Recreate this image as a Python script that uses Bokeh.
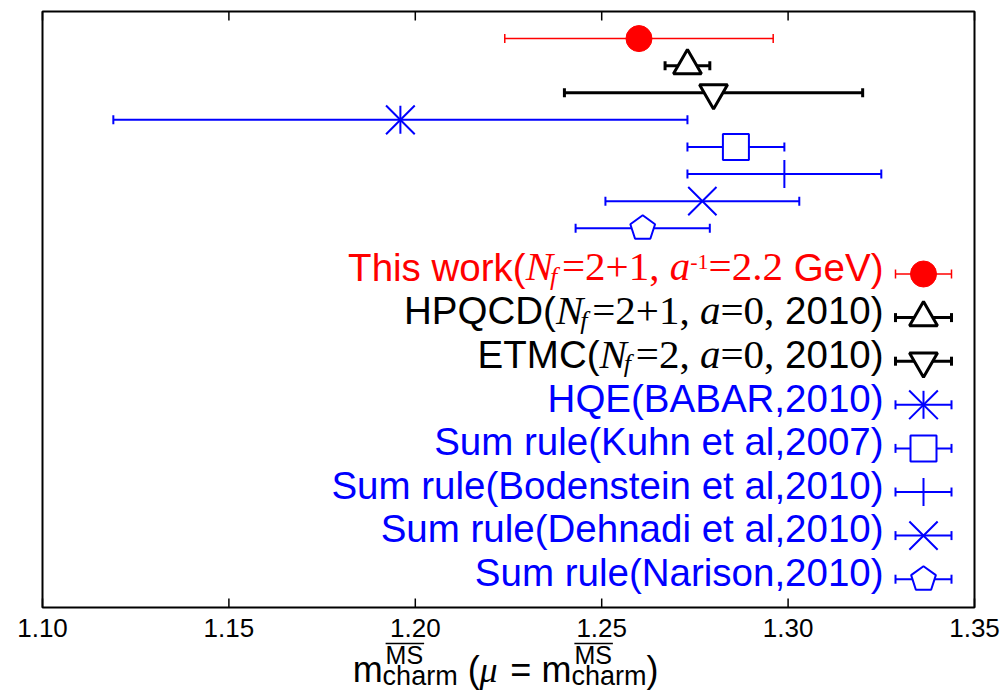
import math
from bokeh.plotting import figure
from bokeh.models import ColumnDataSource, Whisker, TeeHead, Label, Range1d
from bokeh.embed import file_html
from bokeh.resources import INLINE

# ---------------- data ----------------
names = ["This work", "HPQCD", "ETMC", "HQE(BABAR,2010)", "Sum rule(Kuhn et al,2007)",
         "Sum rule(Bodenstein et al,2010)", "Sum rule(Dehnadi et al,2010)", "Sum rule(Narison,2010)"]
mass = [1.260, 1.273, 1.280, 1.196, 1.286, 1.299, 1.277, 1.261]
err = [0.036, 0.006, 0.040, 0.077, 0.013, 0.026, 0.026, 0.018]
rank = [21, 20, 19, 18, 17, 16, 15, 14]
colors = ["red", "black", "black", "blue", "blue", "blue", "blue", "blue"]
markers = ["circle", "triangle", "inverted_triangle", "asterisk", "square", "cross", "x", "pentagon"]
tick_values = [1.10, 1.15, 1.20, 1.25, 1.30, 1.35]
tick_labels = ["1.10", "1.15", "1.20", "1.25", "1.30", "1.35"]

legend_rows = [
    [("This work(", "s"), ("N", "i"), ("f", "sub"), ("=2+1, ", "r"), ("a", "i"), ("-1", "sup"), ("=2.2", "r"), (" GeV)", "s")],
    [("HPQCD(", "s"), ("N", "i"), ("f", "sub"), ("=2+1, ", "r"), ("a", "i"), ("=0,", "r"), (" 2010)", "s")],
    [("ETMC(", "s"), ("N", "i"), ("f", "sub"), ("=2, ", "r"), ("a", "i"), ("=0,", "r"), (" 2010)", "s")],
    [("HQE(BABAR,2010)", "s")],
    [("Sum rule(Kuhn et al,2007)", "s")],
    [("Sum rule(Bodenstein et al,2010)", "s")],
    [("Sum rule(Dehnadi et al,2010)", "s")],
    [("Sum rule(Narison,2010)", "s")],
]

# ---------------- layout (pixel geometry of the plot box) ----------------
W, H = 1003, 691
FL, FR, FT, FB = 42, 974, 11, 607
XR = (1.10, 1.35)
YR = (0.0, 22.0)
SX = (FR - FL) / (XR[1] - XR[0])
SY = (FB - FT) / (YR[1] - YR[0])


def dx(px):
    return XR[0] + (px - FL) / SX


def dy(py):
    return YR[1] - (py - FT) / SY


def base_fix(size):
    # Label baseline correction (rendered baseline sits lower than requested)
    return -0.33 * size


SANS = {' ': 278, '(': 333, ')': 333, ',': 278, '.': 278, '=': 584,
        'A': 667, 'B': 667, 'C': 722, 'D': 722, 'E': 667, 'G': 778, 'H': 722, 'K': 667,
        'M': 833, 'N': 722, 'P': 667, 'Q': 778, 'R': 722, 'S': 667, 'T': 611, 'V': 667,
        'a': 556, 'b': 556, 'c': 500, 'd': 556, 'e': 556, 'h': 556, 'i': 222, 'k': 500,
        'l': 222, 'm': 833, 'n': 556, 'o': 556, 'r': 333, 's': 500, 't': 278, 'u': 556, 'w': 722}
SERIF = {' ': 250, '=': 564, '+': 564, ',': 250, '.': 250, '-': 333}
ITAL = {'N': 667, 'a': 500, 'f': 278}


def width(text, table, size):
    return sum(table.get(c, 556 if table is SANS else 500) for c in text) / 1000.0 * size


LEG_SIZE = 38.5
SER_SIZE = 41
STYLE = {
    "s": ("Liberation Sans", "normal", LEG_SIZE, SANS, 0),
    "r": ("Liberation Serif", "normal", SER_SIZE, SERIF, 0),
    "i": ("Liberation Serif", "italic", SER_SIZE, ITAL, 0),
    "sub": ("Liberation Serif", "italic", 26, ITAL, 5),
    "sup": ("Liberation Serif", "normal", 22, SERIF, -11),
}

p = figure(width=W, height=H, x_range=Range1d(dx(0), dx(W)), y_range=Range1d(dy(H), dy(0)),
           output_backend="svg", toolbar_location=None, x_axis_location=None,
           y_axis_location=None, min_border=0)
p.grid.visible = False
p.outline_line_color = None
p.background_fill_color = "white"
p.border_fill_color = "white"

# plot box
p.quad(left=[XR[0]], right=[XR[1]], bottom=[YR[0]], top=[YR[1]], fill_color=None,
       line_color="black", line_width=2)
# ticks (bottom and mirrored top, pointing inward)
n = len(tick_values)
p.segment(x0=tick_values, x1=tick_values, y0=[YR[0]] * n, y1=[dy(FB - 9)] * n,
          line_color="black", line_width=1.5)
p.segment(x0=tick_values, x1=tick_values, y0=[YR[1]] * n, y1=[dy(FT + 9)] * n,
          line_color="black", line_width=1.5)
for v, s in zip(tick_values, tick_labels):
    p.add_layout(Label(x=v, y=dy(636 + base_fix(26)), text=s, text_font="Liberation Sans",
                       text_font_size="26px", text_color="black", text_align="center",
                       text_baseline="alphabetic"))

LW = [1.5, 3, 3, 2, 2, 2, 2, 2]
SIZES = [26, 28, 28, 28, 26, 28, 40, 26]
CAP = 9


def draw_point(i, x, y):
    c = colors[i]
    m = markers[i]
    if m == "pentagon":
        R = SIZES[i] / 2.0
        xs = [x + R * math.sin(math.radians(72 * k)) / SX for k in range(5)]
        ys = [y + R * math.cos(math.radians(72 * k)) / SY for k in range(5)]
        p.patch(xs, ys, fill_color="white", line_color=c, line_width=LW[i])
    elif m == "circle":
        p.scatter(x=[x], y=[y], marker="circle", size=SIZES[i], fill_color=c, line_color=c)
    elif m in ("triangle", "inverted_triangle", "square"):
        p.scatter(x=[x], y=[y], marker=m, size=SIZES[i], fill_color="white",
                  line_color=c, line_width=LW[i])
    elif m == "asterisk":
        p.scatter(x=[x], y=[y], marker="x", size=SIZES[i] * 1.45, line_color=c, line_width=LW[i])
        p.scatter(x=[x], y=[y], marker="dash", angle=math.pi / 2, size=SIZES[i],
                  line_color=c, line_width=LW[i])
    else:
        p.scatter(x=[x], y=[y], marker=m, size=SIZES[i], line_color=c, line_width=LW[i])


def whisker(i, base, lo, hi):
    src = ColumnDataSource(dict(base=[base], lower=[lo], upper=[hi]))
    c = colors[i]
    w = Whisker(source=src, base="base", lower="lower", upper="upper", dimension="width",
                line_color=c, line_width=LW[i], level="underlay",
                upper_head=TeeHead(size=CAP, line_color=c, line_width=LW[i]),
                lower_head=TeeHead(size=CAP, line_color=c, line_width=LW[i]))
    p.add_layout(w)


# data points
for i in range(len(names)):
    whisker(i, rank[i], mass[i] - err[i], mass[i] + err[i])
    draw_point(i, mass[i], rank[i])

# legend
ROW0, ROWSTEP = 273.5, 43.6
TEXT_RIGHT = 883
SAMPLE_C, SAMPLE_HW = 923, 28
for i, row in enumerate(legend_rows):
    py = ROW0 + ROWSTEP * i
    whisker(i, dy(py), dx(SAMPLE_C - SAMPLE_HW), dx(SAMPLE_C + SAMPLE_HW))
    draw_point(i, dx(SAMPLE_C), dy(py))
    adv = []
    for text, st in row:
        font, fstyle, size, table, shift = STYLE[st]
        adv.append(9 if st == "sub" else width(text, table, size))
    x = TEXT_RIGHT - sum(adv)
    base = py + 6
    for (text, st), a in zip(row, adv):
        font, fstyle, size, table, shift = STYLE[st]
        lead = len(text) - len(text.lstrip(" "))
        xo = x - 3 if st == "sub" else x + width(" " * lead, table, size)
        p.add_layout(Label(x=dx(xo), y=dy(base + shift + base_fix(size)), text=text.strip(" "),
                           text_font=font, text_font_style=fstyle, text_font_size=f"{size}px",
                           text_color=colors[i], text_align="left",
                           text_baseline="alphabetic"))
        x += a

# x axis label: m_charm^MS (mu = m_charm^MS)
MAIN, SMALL, SUP = 36, 27, 25
pieces = [("m", "main"), ("charm", "subsup"), (" (", "main"), ("\u03bc", "mu"),
          (" = m", "main"), ("charm", "subsup"), (")", "main")]
advs = []
for text, k in pieces:
    if k == "main":
        advs.append(width(text, SANS, MAIN))
    elif k == "mu":
        advs.append(0.576 * MAIN)
    else:
        advs.append(width(text, SANS, SMALL))
x = 505 - sum(advs) / 2.0
BASE = 681
for (text, k), a in zip(pieces, advs):
    lead = len(text) - len(text.lstrip(" "))
    if k == "main":
        p.add_layout(Label(x=dx(x + width(" " * lead, SANS, MAIN)), y=dy(BASE + base_fix(MAIN)),
                           text=text.strip(" "), text_font="Liberation Sans",
                           text_font_size=f"{MAIN}px", text_color="black",
                           text_baseline="alphabetic"))
    elif k == "mu":
        p.add_layout(Label(x=dx(x), y=dy(BASE + base_fix(MAIN)), text=text,
                           text_font="Liberation Serif", text_font_style="italic",
                           text_font_size=f"{MAIN}px", text_color="black",
                           text_baseline="alphabetic"))
    else:
        p.add_layout(Label(x=dx(x), y=dy(BASE + 3 + base_fix(SMALL)), text=text,
                           text_font="Liberation Sans", text_font_size=f"{SMALL}px",
                           text_color="black", text_baseline="alphabetic"))
        sx0 = x + 3
        p.add_layout(Label(x=dx(sx0), y=dy(663 + base_fix(SUP)), text="MS",
                           text_font="Liberation Sans", text_font_size=f"{SUP}px",
                           text_color="black", text_baseline="alphabetic"))
        wms = width("MS", SANS, SUP)
        p.segment(x0=[dx(sx0)], y0=[dy(643)], x1=[dx(sx0 + wms + 1)], y1=[dy(643)],
                  line_color="black", line_width=1.5)
    x += a

open("out.html", "w").write(file_html(p, INLINE))
